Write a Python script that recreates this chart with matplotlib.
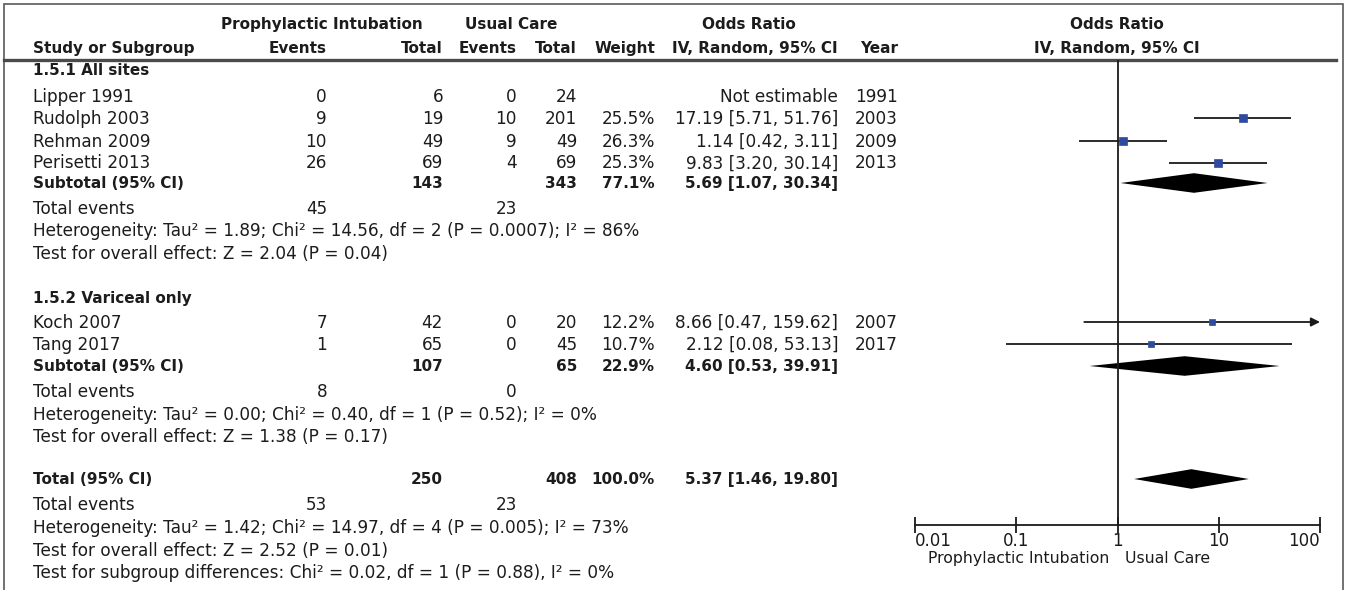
import matplotlib
matplotlib.use("Agg")
import matplotlib.pyplot as plt
from matplotlib.ticker import NullLocator

plt.rcParams['font.family'] = ['DejaVu Sans']

# ---------------- data ----------------
subgroups = ["1.5.1 All sites", "1.5.2 Variceal only"]

studies = ["Lipper 1991", "Rudolph 2003", "Rehman 2009", "Perisetti 2013",
           "Koch 2007", "Tang 2017"]
study_group = [0, 0, 0, 0, 1, 1]
events_pi = [0, 9, 10, 26, 7, 1]
total_pi = [6, 19, 49, 69, 42, 65]
events_uc = [0, 10, 9, 4, 0, 0]
total_uc = [24, 201, 49, 69, 20, 45]
weights = [None, 25.5, 26.3, 25.3, 12.2, 10.7]
or_est = [None, 17.19, 1.14, 9.83, 8.66, 2.12]
or_low = [None, 5.71, 0.42, 3.20, 0.47, 0.08]
or_high = [None, 51.76, 3.11, 30.14, 159.62, 53.13]
years = [1991, 2003, 2009, 2013, 2007, 2017]

sub_total_pi = [143, 107]
sub_total_uc = [343, 65]
sub_events_pi = [45, 8]
sub_events_uc = [23, 0]
sub_weight = [77.1, 22.9]
sub_or = [5.69, 4.60]
sub_low = [1.07, 0.53]
sub_high = [30.34, 39.91]
sub_het = ["Heterogeneity: Tau\u00b2 = 1.89; Chi\u00b2 = 14.56, df = 2 (P = 0.0007); I\u00b2 = 86%",
           "Heterogeneity: Tau\u00b2 = 0.00; Chi\u00b2 = 0.40, df = 1 (P = 0.52); I\u00b2 = 0%"]
sub_test = ["Test for overall effect: Z = 2.04 (P = 0.04)",
            "Test for overall effect: Z = 1.38 (P = 0.17)"]

all_total_pi = 250
all_total_uc = 408
all_events_pi = 53
all_events_uc = 23
all_weight = 100.0
all_or = 5.37
all_low = 1.46
all_high = 19.80
all_het = "Heterogeneity: Tau\u00b2 = 1.42; Chi\u00b2 = 14.97, df = 4 (P = 0.005); I\u00b2 = 73%"
all_test = "Test for overall effect: Z = 2.52 (P = 0.01)"
subgroup_test = "Test for subgroup differences: Chi\u00b2 = 0.02, df = 1 (P = 0.88), I\u00b2 = 0%"

axis_ticks = [0.01, 0.1, 1, 10, 100]
axis_ticklabels = ["0.01", "0.1", "1", "10", "100"]
favours_left = "Prophylactic Intubation"
favours_right = "Usual Care"

# ---------------- layout (pixels) ----------------
W, H = 1346, 590
TXT = "#1c1c1c"
BLUE = "#2f4b9f"
FS = 12.2
FSB = 11.0

# right edges of the table columns
X_LABEL = 33
X_EV_PI, X_TOT_PI = 327, 443
X_EV_UC, X_TOT_UC = 517, 577
X_WEIGHT, X_CI, X_YEAR = 655, 838, 898

# text baselines of the rows
Y_HEAD1, Y_HEAD2 = 29, 53
Y_GROUP_HEAD = [75, 303]
Y_STUDY = [102, 124, 147, 168.5, 328, 350]
Y_SUBTOTAL = [188, 371]
Y_SUB_EVENTS = [214, 397]
Y_SUB_HET = [236.5, 419.5]
Y_SUB_TEST = [259, 442]
Y_TOTAL, Y_ALL_EVENTS, Y_ALL_HET, Y_ALL_TEST, Y_SUBDIFF = 484, 510, 533, 556, 578
MARK_OFFSET = 6          # marks sit at the cap-height centre of a row
Y_AXIS = 525
Y_RULE = 60

fig = plt.figure(figsize=(W / 100, H / 100), dpi=100)
tab = fig.add_axes([0, 0, 1, 1])
tab.set_xlim(0, W)
tab.set_ylim(H, 0)
tab.axis("off")

# forest panel: log odds-ratio scale from 0.01 to 100
FX0, FX1 = 915, 1320
fp = fig.add_axes([FX0 / W, 0, (FX1 - FX0) / W, 1], zorder=3)
fp.set_xscale("log")
fp.set_xlim(axis_ticks[0], axis_ticks[-1])
fp.set_ylim(H, 0)
fp.patch.set_alpha(0)


def put(x, y, s, ha="right", bold=False):
    tab.text(x, y, s, ha=ha, va="baseline", color=TXT,
             fontsize=FSB if bold else FS,
             fontweight="bold" if bold else "normal")


def ci_text(o, lo, hi):
    return f"{o:.2f} [{lo:.2f}, {hi:.2f}]"


# frame and header rule
tab.plot([4, 4, 1343, 1343], [H + 5, 4, 4, H + 5], color="#5a5a5a", lw=1.2,
         solid_joinstyle="miter", clip_on=False)
tab.plot([4, 1336], [Y_RULE, Y_RULE], color="#4a4a4a", lw=2.4)

# column headers
put(322, Y_HEAD1, "Prophylactic Intubation", ha="center", bold=True)
put(511, Y_HEAD1, "Usual Care", ha="center", bold=True)
put(749, Y_HEAD1, "Odds Ratio", ha="center", bold=True)
put(1117, Y_HEAD1, "Odds Ratio", ha="center", bold=True)
put(X_LABEL, Y_HEAD2, "Study or Subgroup", ha="left", bold=True)
put(X_EV_PI, Y_HEAD2, "Events", bold=True)
put(X_TOT_PI, Y_HEAD2, "Total", bold=True)
put(X_EV_UC, Y_HEAD2, "Events", bold=True)
put(X_TOT_UC, Y_HEAD2, "Total", bold=True)
put(X_WEIGHT, Y_HEAD2, "Weight", bold=True)
put(X_CI, Y_HEAD2, "IV, Random, 95% CI", bold=True)
put(X_YEAR, Y_HEAD2, "Year", bold=True)
put(1117, Y_HEAD2, "IV, Random, 95% CI", ha="center", bold=True)

LINE_KW = dict(color="#1a1a1a", lw=1.3, solid_capstyle="butt")


def diamond(o, lo, hi, y, half=9.8):
    fp.fill([lo, o, hi, o], [y, y - half, y, y + half], color="black", lw=0)


# individual studies
for i, name in enumerate(studies):
    y = Y_STUDY[i]
    put(X_LABEL, y, name, ha="left")
    put(X_EV_PI, y, str(events_pi[i]))
    put(X_TOT_PI, y, str(total_pi[i]))
    put(X_EV_UC, y, str(events_uc[i]))
    put(X_TOT_UC, y, str(total_uc[i]))
    put(X_YEAR, y, str(years[i]))
    if or_est[i] is None:
        put(X_CI, y, "Not estimable")
        continue
    put(X_WEIGHT, y, f"{weights[i]:.1f}%")
    put(X_CI, y, ci_text(or_est[i], or_low[i], or_high[i]))
    ym = y - MARK_OFFSET
    hi = or_high[i]
    if hi > axis_ticks[-1]:
        fp.annotate("", xy=(axis_ticks[-1], ym), xytext=(or_low[i], ym),
                    arrowprops=dict(arrowstyle="-|>", color="#1a1a1a", lw=1.3,
                                    mutation_scale=13, shrinkA=0, shrinkB=0),
                    annotation_clip=False)
    else:
        fp.plot([or_low[i], hi], [ym, ym], **LINE_KW)
    size_pt = 1.15 * weights[i] ** 0.5
    fp.plot(or_est[i], ym, marker="s", ms=size_pt, color=BLUE, mec=BLUE, mew=0.5,
            zorder=4)

# subgroup blocks
for g, gname in enumerate(subgroups):
    put(X_LABEL, Y_GROUP_HEAD[g], gname, ha="left", bold=True)
    y = Y_SUBTOTAL[g]
    put(X_LABEL, y, "Subtotal (95% CI)", ha="left", bold=True)
    put(X_TOT_PI, y, str(sub_total_pi[g]), bold=True)
    put(X_TOT_UC, y, str(sub_total_uc[g]), bold=True)
    put(X_WEIGHT, y, f"{sub_weight[g]:.1f}%", bold=True)
    put(X_CI, y, ci_text(sub_or[g], sub_low[g], sub_high[g]), bold=True)
    diamond(sub_or[g], sub_low[g], sub_high[g], y - MARK_OFFSET + 1)
    put(X_LABEL, Y_SUB_EVENTS[g], "Total events", ha="left")
    put(X_EV_PI, Y_SUB_EVENTS[g], str(sub_events_pi[g]))
    put(X_EV_UC, Y_SUB_EVENTS[g], str(sub_events_uc[g]))
    put(X_LABEL, Y_SUB_HET[g], sub_het[g], ha="left")
    put(X_LABEL, Y_SUB_TEST[g], sub_test[g], ha="left")

# overall
put(X_LABEL, Y_TOTAL, "Total (95% CI)", ha="left", bold=True)
put(X_TOT_PI, Y_TOTAL, str(all_total_pi), bold=True)
put(X_TOT_UC, Y_TOTAL, str(all_total_uc), bold=True)
put(X_WEIGHT, Y_TOTAL, f"{all_weight:.1f}%", bold=True)
put(X_CI, Y_TOTAL, ci_text(all_or, all_low, all_high), bold=True)
diamond(all_or, all_low, all_high, Y_TOTAL - MARK_OFFSET + 1)
put(X_LABEL, Y_ALL_EVENTS, "Total events", ha="left")
put(X_EV_PI, Y_ALL_EVENTS, str(all_events_pi))
put(X_EV_UC, Y_ALL_EVENTS, str(all_events_uc))
put(X_LABEL, Y_ALL_HET, all_het, ha="left")
put(X_LABEL, Y_ALL_TEST, all_test, ha="left")
put(X_LABEL, Y_SUBDIFF, subgroup_test, ha="left")

# line of no effect
fp.plot([1, 1], [Y_RULE + 1, Y_AXIS], color="#1a1a1a", lw=1.3)

# log axis
for side in ("top", "left", "right"):
    fp.spines[side].set_visible(False)
fp.spines["bottom"].set_position(("data", Y_AXIS))
fp.spines["bottom"].set_linewidth(1.3)
fp.spines["bottom"].set_color("#1a1a1a")
fp.set_yticks([])
fp.set_xticks(axis_ticks)
fp.set_xticklabels(axis_ticklabels)
fp.xaxis.set_minor_locator(NullLocator())
fp.tick_params(axis="x", direction="inout", length=12, width=1.3, pad=-1,
               labelsize=12, colors="#1a1a1a")
labels = fp.get_xticklabels()
labels[0].set_ha("left")
labels[-1].set_ha("right")

fp.annotate(favours_left, xy=(1, 563), xytext=(-5.5, 0), textcoords="offset points",
            ha="right", va="baseline", fontsize=11.3, color=TXT)
fp.annotate(favours_right, xy=(1, 563), xytext=(5.5, 0), textcoords="offset points",
            ha="left", va="baseline", fontsize=11.3, color=TXT)

fig.savefig("out.png", dpi=100)
